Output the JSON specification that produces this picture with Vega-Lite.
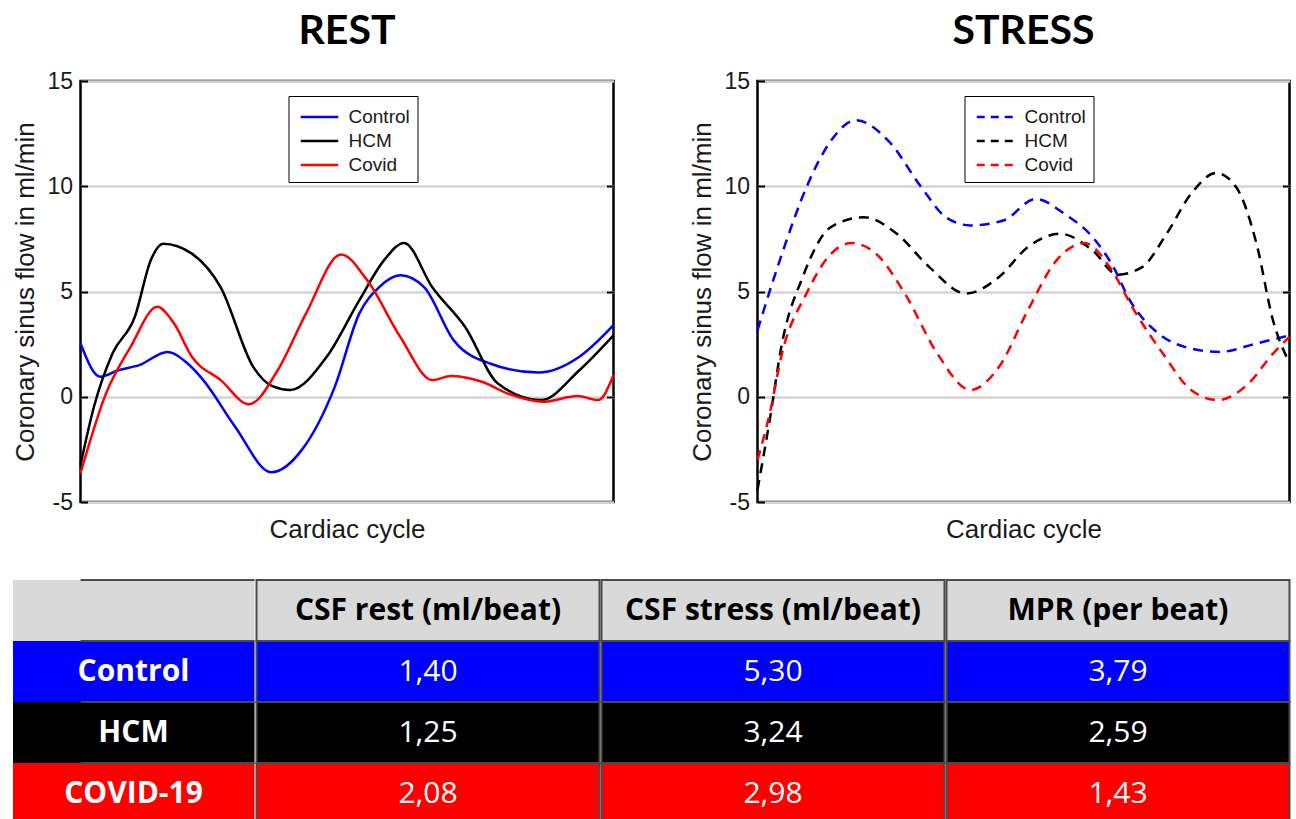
{
  "$schema": "https://vega.github.io/schema/vega-lite/v6.json",
  "padding": {"left": -18.5, "top": 9, "right": 0, "bottom": 0},
  "background": "white",
  "config": {
    "view": {"stroke": "black", "strokeWidth": 2.5},
    "axis": {"labelFont": "Liberation Sans", "titleFont": "Liberation Sans", "labelFontSize": 23, "titleFontSize": 26, "titleFontWeight": "normal", "labelColor": "#1a1a1a", "titleColor": "#1a1a1a"},
    "title": {"font": "Lato", "fontSize": 41, "fontWeight": "bold", "color": "black", "anchor": "middle", "offset": 17},
    "legend": {"labelFont": "Liberation Sans", "labelFontSize": 19, "labelColor": "#1a1a1a"}
  },
  "datasets": {
    "curves": [
      {"p":"rest","g":"Control","t":0,"f":2.53},{"p":"rest","g":"Control","t":3.7,"f":0.95},{"p":"rest","g":"Control","t":7.1,"f":1.26},{"p":"rest","g":"Control","t":11,"f":1.5},{"p":"rest","g":"Control","t":16.3,"f":2.13},{"p":"rest","g":"Control","t":20,"f":1.6},{"p":"rest","g":"Control","t":23,"f":0.8},{"p":"rest","g":"Control","t":29,"f":-1.42},{"p":"rest","g":"Control","t":35.8,"f":-3.59},{"p":"rest","g":"Control","t":41.6,"f":-2.5},{"p":"rest","g":"Control","t":47.7,"f":0.47},{"p":"rest","g":"Control","t":52.3,"f":3.95},{"p":"rest","g":"Control","t":56,"f":5.2},{"p":"rest","g":"Control","t":60,"f":5.77},{"p":"rest","g":"Control","t":64.5,"f":5.2},{"p":"rest","g":"Control","t":70,"f":2.69},{"p":"rest","g":"Control","t":76.8,"f":1.58},{"p":"rest","g":"Control","t":86,"f":1.15},{"p":"rest","g":"Control","t":93.6,"f":1.9},{"p":"rest","g":"Control","t":100,"f":3.4},
      {"p":"rest","g":"HCM","t":0,"f":-3.24},{"p":"rest","g":"HCM","t":2.5,"f":-0.5},{"p":"rest","g":"HCM","t":6,"f":2.05},{"p":"rest","g":"HCM","t":10.2,"f":3.8},{"p":"rest","g":"HCM","t":13.2,"f":6.5},{"p":"rest","g":"HCM","t":15.5,"f":7.27},{"p":"rest","g":"HCM","t":20.9,"f":6.8},{"p":"rest","g":"HCM","t":26.3,"f":5.2},{"p":"rest","g":"HCM","t":32.4,"f":1.42},{"p":"rest","g":"HCM","t":36,"f":0.5},{"p":"rest","g":"HCM","t":39.3,"f":0.32},{"p":"rest","g":"HCM","t":46.2,"f":1.9},{"p":"rest","g":"HCM","t":52.3,"f":4.58},{"p":"rest","g":"HCM","t":57,"f":6.5},{"p":"rest","g":"HCM","t":60.7,"f":7.31},{"p":"rest","g":"HCM","t":66,"f":5.2},{"p":"rest","g":"HCM","t":72.2,"f":3.3},{"p":"rest","g":"HCM","t":78.3,"f":0.63},{"p":"rest","g":"HCM","t":86.4,"f":-0.16},{"p":"rest","g":"HCM","t":93.6,"f":1.26},{"p":"rest","g":"HCM","t":100,"f":2.92},
      {"p":"rest","g":"Covid","t":0,"f":-3.63},{"p":"rest","g":"Covid","t":4.8,"f":0.16},{"p":"rest","g":"Covid","t":9.4,"f":2.37},{"p":"rest","g":"Covid","t":14.4,"f":4.27},{"p":"rest","g":"Covid","t":17.5,"f":3.5},{"p":"rest","g":"Covid","t":20.9,"f":1.9},{"p":"rest","g":"Covid","t":26.3,"f":0.79},{"p":"rest","g":"Covid","t":31.6,"f":-0.36},{"p":"rest","g":"Covid","t":37,"f":1.26},{"p":"rest","g":"Covid","t":42.3,"f":3.95},{"p":"rest","g":"Covid","t":48.9,"f":6.76},{"p":"rest","g":"Covid","t":53.8,"f":5.53},{"p":"rest","g":"Covid","t":60,"f":2.84},{"p":"rest","g":"Covid","t":66,"f":0.79},{"p":"rest","g":"Covid","t":69.5,"f":0.98},{"p":"rest","g":"Covid","t":75.3,"f":0.71},{"p":"rest","g":"Covid","t":80.6,"f":0.11},{"p":"rest","g":"Covid","t":86.7,"f":-0.24},{"p":"rest","g":"Covid","t":93.3,"f":0.03},{"p":"rest","g":"Covid","t":97.1,"f":-0.16},{"p":"rest","g":"Covid","t":100,"f":1.03},
      {"p":"stress","g":"Control","t":0,"f":3.16},{"p":"stress","g":"Control","t":4.6,"f":6.79},{"p":"stress","g":"Control","t":9.2,"f":9.95},{"p":"stress","g":"Control","t":13.8,"f":12.16},{"p":"stress","g":"Control","t":18.5,"f":13.14},{"p":"stress","g":"Control","t":24.6,"f":12.16},{"p":"stress","g":"Control","t":30.8,"f":9.95},{"p":"stress","g":"Control","t":35.4,"f":8.53},{"p":"stress","g":"Control","t":40,"f":8.14},{"p":"stress","g":"Control","t":46.2,"f":8.37},{"p":"stress","g":"Control","t":52.3,"f":9.4},{"p":"stress","g":"Control","t":57.7,"f":8.69},{"p":"stress","g":"Control","t":63,"f":7.58},{"p":"stress","g":"Control","t":66.9,"f":6.16},{"p":"stress","g":"Control","t":70,"f":4.58},{"p":"stress","g":"Control","t":75.4,"f":3.0},{"p":"stress","g":"Control","t":81.5,"f":2.29},{"p":"stress","g":"Control","t":86.9,"f":2.13},{"p":"stress","g":"Control","t":93.8,"f":2.53},{"p":"stress","g":"Control","t":100,"f":2.92},
      {"p":"stress","g":"HCM","t":0,"f":-4.42},{"p":"stress","g":"HCM","t":2.3,"f":-1.1},{"p":"stress","g":"HCM","t":4.6,"f":2.53},{"p":"stress","g":"HCM","t":8.5,"f":5.69},{"p":"stress","g":"HCM","t":13.8,"f":8.06},{"p":"stress","g":"HCM","t":20,"f":8.53},{"p":"stress","g":"HCM","t":26.2,"f":7.74},{"p":"stress","g":"HCM","t":32.3,"f":6.16},{"p":"stress","g":"HCM","t":39.2,"f":4.9},{"p":"stress","g":"HCM","t":45.4,"f":5.69},{"p":"stress","g":"HCM","t":50.8,"f":7.11},{"p":"stress","g":"HCM","t":56.9,"f":7.74},{"p":"stress","g":"HCM","t":63,"f":6.95},{"p":"stress","g":"HCM","t":67.7,"f":5.8},{"p":"stress","g":"HCM","t":72.3,"f":6.16},{"p":"stress","g":"HCM","t":76.9,"f":7.74},{"p":"stress","g":"HCM","t":81.5,"f":9.64},{"p":"stress","g":"HCM","t":86.2,"f":10.63},{"p":"stress","g":"HCM","t":90,"f":9.95},{"p":"stress","g":"HCM","t":93.8,"f":7.27},{"p":"stress","g":"HCM","t":96.9,"f":3.63},{"p":"stress","g":"HCM","t":100,"f":1.6},
      {"p":"stress","g":"Covid","t":0,"f":-3.0},{"p":"stress","g":"Covid","t":2.3,"f":-0.79},{"p":"stress","g":"Covid","t":4.6,"f":2.05},{"p":"stress","g":"Covid","t":9.2,"f":4.9},{"p":"stress","g":"Covid","t":13.8,"f":6.79},{"p":"stress","g":"Covid","t":17.7,"f":7.3},{"p":"stress","g":"Covid","t":22.3,"f":6.79},{"p":"stress","g":"Covid","t":27.7,"f":4.9},{"p":"stress","g":"Covid","t":33.8,"f":2.05},{"p":"stress","g":"Covid","t":40,"f":0.32},{"p":"stress","g":"Covid","t":45.4,"f":1.42},{"p":"stress","g":"Covid","t":50.8,"f":4.1},{"p":"stress","g":"Covid","t":56.2,"f":6.48},{"p":"stress","g":"Covid","t":61.5,"f":7.3},{"p":"stress","g":"Covid","t":66.2,"f":6.16},{"p":"stress","g":"Covid","t":70.8,"f":4.1},{"p":"stress","g":"Covid","t":76.2,"f":2.05},{"p":"stress","g":"Covid","t":81.5,"f":0.32},{"p":"stress","g":"Covid","t":86.5,"f":-0.16},{"p":"stress","g":"Covid","t":92.3,"f":0.63},{"p":"stress","g":"Covid","t":96.9,"f":2.05},{"p":"stress","g":"Covid","t":100,"f":2.84}
    ],
    "table": [
      {"row":"Header","col":1,"text":""},{"row":"Header","col":2,"text":"CSF rest (ml/beat)"},{"row":"Header","col":3,"text":"CSF stress (ml/beat)"},{"row":"Header","col":4,"text":"MPR (per beat)"},
      {"row":"Control","col":1,"text":"Control"},{"row":"Control","col":2,"text":"1,40"},{"row":"Control","col":3,"text":"5,30"},{"row":"Control","col":4,"text":"3,79"},
      {"row":"HCM","col":1,"text":"HCM"},{"row":"HCM","col":2,"text":"1,25"},{"row":"HCM","col":3,"text":"3,24"},{"row":"HCM","col":4,"text":"2,59"},
      {"row":"COVID-19","col":1,"text":"COVID-19"},{"row":"COVID-19","col":2,"text":"2,08"},{"row":"COVID-19","col":3,"text":"2,98"},{"row":"COVID-19","col":4,"text":"1,43"}
    ]
  },
  "columns": 1,
  "align": "none",
  "spacing": 35,
  "concat": [
    {
      "hconcat": [
        {
          "width": 533, "height": 421,
          "title": {"text": "REST"},
          "data": {"name": "curves"},
          "transform": [{"filter": "datum.p == 'rest'"}],
          "encoding": {
            "x": {"field": "t", "type": "quantitative", "scale": {"domain": [0, 100], "nice": false}, "axis": {"title": "Cardiac cycle", "labels": false, "ticks": false, "domain": false, "grid": false, "titlePadding": 14}}
          },
          "layer": [
            {
              "mark": {"type": "line", "interpolate": "monotone", "strokeWidth": 2.5},
              "encoding": {
                "y": {"field": "f", "type": "quantitative", "scale": {"domain": [-5, 15], "nice": false}, "axis": {"title": "Coronary sinus flow in ml/min", "values": [-5, 0, 5, 10, 15], "labelExpr": "replace(datum.label, '−', '-')", "domain": false, "ticks": true, "tickSize": -7, "tickWidth": 2, "tickColor": "black", "labelPadding": 15, "titlePadding": 8, "gridColor": "#d4d4d4", "gridWidth": 2.5}},
                "color": {"field": "g", "type": "nominal", "sort": ["Control", "HCM", "Covid"], "scale": {"domain": ["Control", "HCM", "Covid"], "range": ["#0000ff", "#000000", "#ff0000"]},
                  "legend": {"title": null, "orient": "none", "legendX": 208, "legendY": 15, "strokeColor": "black", "fillColor": "white", "padding": 7, "symbolType": "M-1.5,0H1.5", "symbolSize": 625, "symbolStrokeWidth": 2.5, "symbolOffset": 10, "rowPadding": 0, "labelOffset": 15}}
              }
            },
            {
              "mark": {"type": "line", "opacity": 0},
              "encoding": {
                "y": {"field": "f", "type": "quantitative", "axis": {"orient": "right", "title": null, "labels": false, "grid": false, "domain": false, "values": [0, 5, 10], "ticks": true, "tickSize": -7, "tickWidth": 2, "tickColor": "black"}}
              }
            }
          ],
          "resolve": {"axis": {"y": "independent"}}
        },
        {
          "width": 532, "height": 421,
          "title": {"text": "STRESS"},
          "data": {"name": "curves"},
          "transform": [{"filter": "datum.p == 'stress'"}],
          "encoding": {
            "x": {"field": "t", "type": "quantitative", "scale": {"domain": [0, 100], "nice": false}, "axis": {"title": "Cardiac cycle", "labels": false, "ticks": false, "domain": false, "grid": false, "titlePadding": 14}}
          },
          "layer": [
            {
              "mark": {"type": "line", "interpolate": "monotone", "strokeWidth": 2.5, "strokeDash": [10, 7]},
              "encoding": {
                "y": {"field": "f", "type": "quantitative", "scale": {"domain": [-5, 15], "nice": false}, "axis": {"title": "Coronary sinus flow in ml/min", "values": [-5, 0, 5, 10, 15], "labelExpr": "replace(datum.label, '−', '-')", "domain": false, "ticks": true, "tickSize": -7, "tickWidth": 2, "tickColor": "black", "labelPadding": 15, "titlePadding": 8, "gridColor": "#d4d4d4", "gridWidth": 2.5}},
                "color": {"field": "g", "type": "nominal", "sort": ["Control", "HCM", "Covid"], "scale": {"domain": ["Control", "HCM", "Covid"], "range": ["#0000ff", "#000000", "#ff0000"]},
                  "legend": {"title": null, "orient": "none", "legendX": 207, "legendY": 15, "strokeColor": "black", "fillColor": "white", "padding": 7, "symbolType": "M-1.5,0H1.5", "symbolSize": 625, "symbolStrokeWidth": 2.5, "symbolDash": [8, 6], "symbolOffset": 10, "rowPadding": 0, "labelOffset": 15}}
              }
            },
            {
              "mark": {"type": "line", "opacity": 0},
              "encoding": {
                "y": {"field": "f", "type": "quantitative", "axis": {"orient": "right", "title": null, "labels": false, "grid": false, "domain": false, "values": [0, 5, 10], "ticks": true, "tickSize": -7, "tickWidth": 2, "tickColor": "black"}}
              }
            }
          ],
          "resolve": {"axis": {"y": "independent"}}
        }
      ],
      "spacing": 68,
      "resolve": {"scale": {"color": "independent", "y": "independent"}, "legend": {"color": "independent"}}
    },
    {
      "hconcat": [
        {
          "width": 174, "height": 244, "view": {"stroke": null},
          "data": {"name": "table"},
          "transform": [{"filter": "datum.col == 1"}],
          "encoding": {"y": {"field": "row", "type": "nominal", "sort": ["Header", "Control", "HCM", "COVID-19"], "scale": {"paddingInner": 0, "paddingOuter": 0},
            "axis": {"title": null, "labels": false, "domain": false, "grid": false, "ticks": true, "zindex": 0, "bandPosition": 0.5, "tickSize": 68, "tickWidth": 61, "tickCap": "butt",
              "tickColor": {"condition": [{"test": "datum.value === 'Header'", "value": "#d9d9d9"}, {"test": "datum.value === 'Control'", "value": "#0000ff"}, {"test": "datum.value === 'COVID-19'", "value": "#ff0000"}], "value": "#000000"}}}},
          "layer": [
            {"mark": {"type": "rect"}, "encoding": {"fill": {"field": "row", "type": "nominal", "scale": {"domain": ["Header", "Control", "HCM", "COVID-19"], "range": ["#d9d9d9", "#0000ff", "#000000", "#ff0000"]}, "legend": null}}},
            {"mark": {"type": "rule", "stroke": "#4a4a4a", "strokeWidth": 2}, "encoding": {"y": {"field": "row", "type": "nominal", "sort": ["Header", "Control", "HCM", "COVID-19"], "bandPosition": 0}}},
            {"mark": {"type": "text", "font": "Open Sans", "fontSize": 30, "fontWeight": "bold", "color": "white", "dx": -34}, "encoding": {"text": {"field": "text"}}}
          ]
        },
        {
          "width": 343, "height": 244, "view": {"stroke": null},
          "data": {"name": "table"},
          "transform": [{"filter": "datum.col == 2"}],
          "encoding": {"y": {"field": "row", "type": "nominal", "sort": ["Header", "Control", "HCM", "COVID-19"], "axis": null, "scale": {"paddingInner": 0, "paddingOuter": 0}}},
          "layer": [
            {"mark": {"type": "rect", "stroke": "#4a4a4a", "strokeWidth": 2}, "encoding": {"fill": {"field": "row", "type": "nominal", "scale": {"domain": ["Header", "Control", "HCM", "COVID-19"], "range": ["#d9d9d9", "#0000ff", "#000000", "#ff0000"]}, "legend": null}}},
            {"transform": [{"filter": "datum.row == 'Header'"}], "mark": {"type": "text", "font": "Open Sans", "fontSize": 30, "fontWeight": "bold", "color": "black"}, "encoding": {"text": {"field": "text"}}},
            {"transform": [{"filter": "datum.row != 'Header'"}], "mark": {"type": "text", "font": "Open Sans", "fontSize": 30, "fontWeight": "normal", "color": "white"}, "encoding": {"text": {"field": "text"}}}
          ]
        },
        {
          "width": 343, "height": 244, "view": {"stroke": null},
          "data": {"name": "table"},
          "transform": [{"filter": "datum.col == 3"}],
          "encoding": {"y": {"field": "row", "type": "nominal", "sort": ["Header", "Control", "HCM", "COVID-19"], "axis": null, "scale": {"paddingInner": 0, "paddingOuter": 0}}},
          "layer": [
            {"mark": {"type": "rect", "stroke": "#4a4a4a", "strokeWidth": 2}, "encoding": {"fill": {"field": "row", "type": "nominal", "scale": {"domain": ["Header", "Control", "HCM", "COVID-19"], "range": ["#d9d9d9", "#0000ff", "#000000", "#ff0000"]}, "legend": null}}},
            {"transform": [{"filter": "datum.row == 'Header'"}], "mark": {"type": "text", "font": "Open Sans", "fontSize": 30, "fontWeight": "bold", "color": "black"}, "encoding": {"text": {"field": "text"}}},
            {"transform": [{"filter": "datum.row != 'Header'"}], "mark": {"type": "text", "font": "Open Sans", "fontSize": 30, "fontWeight": "normal", "color": "white"}, "encoding": {"text": {"field": "text"}}}
          ]
        },
        {
          "width": 343, "height": 244, "view": {"stroke": null},
          "data": {"name": "table"},
          "transform": [{"filter": "datum.col == 4"}],
          "encoding": {"y": {"field": "row", "type": "nominal", "sort": ["Header", "Control", "HCM", "COVID-19"], "axis": null, "scale": {"paddingInner": 0, "paddingOuter": 0}}},
          "layer": [
            {"mark": {"type": "rect", "stroke": "#4a4a4a", "strokeWidth": 2}, "encoding": {"fill": {"field": "row", "type": "nominal", "scale": {"domain": ["Header", "Control", "HCM", "COVID-19"], "range": ["#d9d9d9", "#0000ff", "#000000", "#ff0000"]}, "legend": null}}},
            {"transform": [{"filter": "datum.row == 'Header'"}], "mark": {"type": "text", "font": "Open Sans", "fontSize": 30, "fontWeight": "bold", "color": "black"}, "encoding": {"text": {"field": "text"}}},
            {"transform": [{"filter": "datum.row != 'Header'"}], "mark": {"type": "text", "font": "Open Sans", "fontSize": 30, "fontWeight": "normal", "color": "white"}, "encoding": {"text": {"field": "text"}}}
          ]
        }
      ],
      "spacing": 0
    }
  ]
}
